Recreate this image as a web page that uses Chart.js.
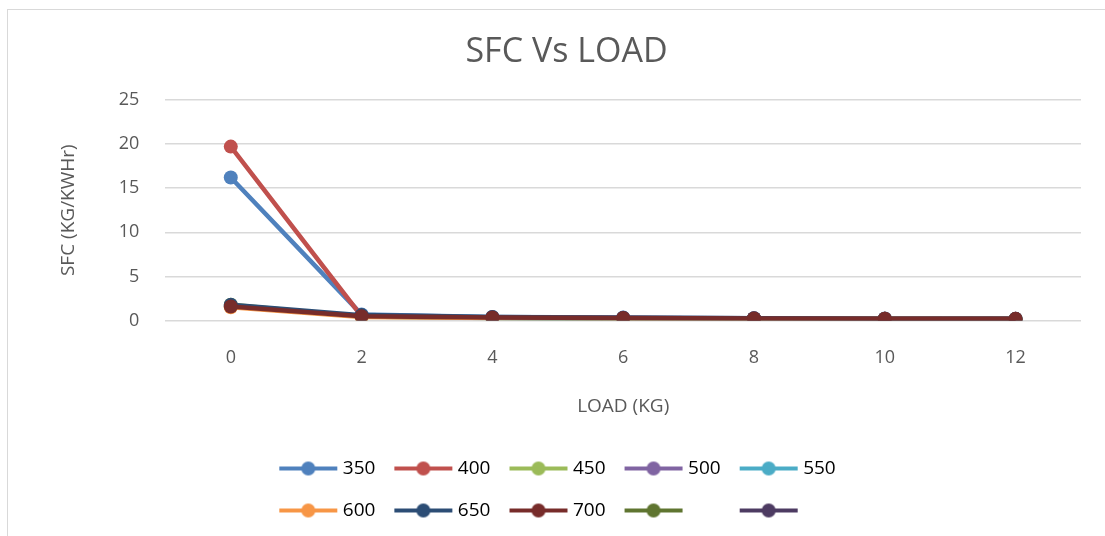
<!DOCTYPE html>
<html>
<head>
<meta charset="utf-8">
<script src="https://cdn.jsdelivr.net/npm/chart.js@4.4.1/dist/chart.umd.min.js"></script>
<style>
  html, body { margin: 0; padding: 0; background: #fff; overflow: hidden; }
  #frame {
    position: absolute; left: 7px; top: 9px;
    width: 1110px; height: 540px;
    border: 1px solid #d9d9d9; box-sizing: border-box;
  }
  #wrap { position: absolute; left: 0; top: 0; width: 1098px; height: 527px; }
</style>
</head>
<body>
<div id="frame"><div id="wrap"><canvas id="grafica"></canvas></div></div>
<script>
// categorias del eje X (carga en kg)
const cargas = ["0", "2", "4", "6", "8", "10", "12"];

// SFC (kg/kWh) por serie
const sfc350 = [16.2, 0.7, 0.42, 0.34, 0.28, 0.24, 0.21];
const sfc400 = [19.7, 0.5, 0.36, 0.3, 0.26, 0.22, 0.2];
const sfc450 = [1.8, 0.45, 0.3, 0.18, 0.22, 0.2, 0.18];
const sfc500 = [1.7, 0.5, 0.33, 0.26, 0.24, 0.21, 0.19];
const sfc550 = [1.6, 0.45, 0.3, 0.12, 0.2, 0.19, 0.17];
const sfc600 = [1.5, 0.4, 0.3, 0.25, 0.22, 0.2, 0.18];
const sfc650 = [1.8, 0.62, 0.4, 0.32, 0.26, 0.22, 0.2];
const sfc700 = [1.6, 0.5, 0.35, 0.3, 0.24, 0.22, 0.2];
const sfcSerie9 = [];
const sfcSerie10 = [];

const nombres = ["350", "400", "450", "500", "550", "600", "650", "700", "", ""];
const valores = [sfc350, sfc400, sfc450, sfc500, sfc550, sfc600, sfc650, sfc700, sfcSerie9, sfcSerie10];
const colores = ["#4F81BD", "#C0504D", "#9BBB59", "#8064A2", "#4BACC6",
                 "#F79646", "#2C4D75", "#772C2A", "#5F7530", "#4D3B62"];

const texto = "#595959";
const fuente = "'Open Sans', 'Liberation Sans', sans-serif";

// simbolo de leyenda tipo Excel: linea con marcador
function simbolo(color) {
  const c = document.createElement("canvas");
  c.width = 60; c.height = 18;
  const g = c.getContext("2d");
  g.strokeStyle = color; g.lineWidth = 4;
  g.beginPath(); g.moveTo(1, 9); g.lineTo(59, 9); g.stroke();
  g.fillStyle = color;
  g.beginPath(); g.arc(30, 9, 7, 0, Math.PI * 2); g.fill();
  return c;
}
const simbolos = colores.map(simbolo);

const datasets = valores.map((v, i) => ({
  label: nombres[i],
  data: v,
  borderColor: colores[i],
  backgroundColor: colores[i],
  borderWidth: 4.5,
  pointRadius: 7,
  pointHoverRadius: 7,
  pointBorderWidth: 0,
  tension: 0,
  order: valores.length - i // las ultimas series encima, como en Excel
}));

// la leyenda de Excel va en filas de 5 elementos
const ANCHO_LEYENDA = 650;
const leyendaEnFilas = {
  id: "leyendaEnFilas",
  afterInit(chart) {
    const leyenda = chart.legend;
    const fitOriginal = leyenda.fit.bind(leyenda);
    const drawOriginal = leyenda._draw.bind(leyenda);
    leyenda.fit = function () {
      const ancho = this.maxWidth;
      this.maxWidth = Math.min(ancho, ANCHO_LEYENDA);
      fitOriginal();
      this.maxWidth = ancho;
    };
    leyenda._draw = function () {
      const izq = this.left, der = this.right;
      const centro = (izq + der) / 2 - 7;
      this.left = centro - ANCHO_LEYENDA / 2;
      this.right = centro + ANCHO_LEYENDA / 2;
      drawOriginal();
      this.left = izq;
      this.right = der;
    };
  }
};

new Chart(document.getElementById("grafica").getContext("2d"), {
  type: "line",
  data: { labels: cargas, datasets },
  plugins: [leyendaEnFilas],
  options: {
    responsive: true,
    maintainAspectRatio: false,
    animation: false,
    layout: { padding: { left: 44, right: 25, top: 14, bottom: 7 } },
    plugins: {
      title: {
        display: true,
        text: "SFC Vs LOAD",
        color: texto,
        font: { family: fuente, size: 34, weight: "normal" },
        padding: { top: 8, bottom: 27 }
      },
      legend: {
        position: "bottom",
        reverse: true,
        labels: {
          usePointStyle: true,
          pointStyleWidth: 50,
          padding: 23,
          color: texto,
          font: { family: fuente, size: 19 },
          generateLabels: (chart) => chart.data.datasets.map((ds, i) => ({
            // sin nombre: ocupa el mismo hueco que tres cifras
            text: ds.label || "\u2007\u2007\u2007",
            fillStyle: colores[i],
            strokeStyle: colores[i],
            lineWidth: 0,
            pointStyle: simbolos[i],
            hidden: false,
            datasetIndex: i
          })).reverse()
        }
      },
      tooltip: { enabled: false }
    },
    scales: {
      x: {
        offset: true,
        grid: { display: false },
        border: { display: false },
        ticks: { color: texto, font: { family: fuente, size: 18 }, padding: 18 },
        title: {
          display: true, text: "LOAD (KG)", color: texto,
          font: { family: fuente, size: 19 }, padding: { top: 9, bottom: 18 }
        }
      },
      y: {
        min: 0, max: 25,
        ticks: { stepSize: 5, color: texto, font: { family: fuente, size: 18 }, padding: 26 },
        grid: { color: "#d9d9d9", lineWidth: 1.5, drawTicks: false },
        border: { display: false },
        title: {
          display: true, text: "SFC (KG/KWHr)", color: texto,
          font: { family: fuente, size: 19 }, padding: { top: 5, bottom: 13 }
        }
      }
    }
  }
});
</script>
</body>
</html>
